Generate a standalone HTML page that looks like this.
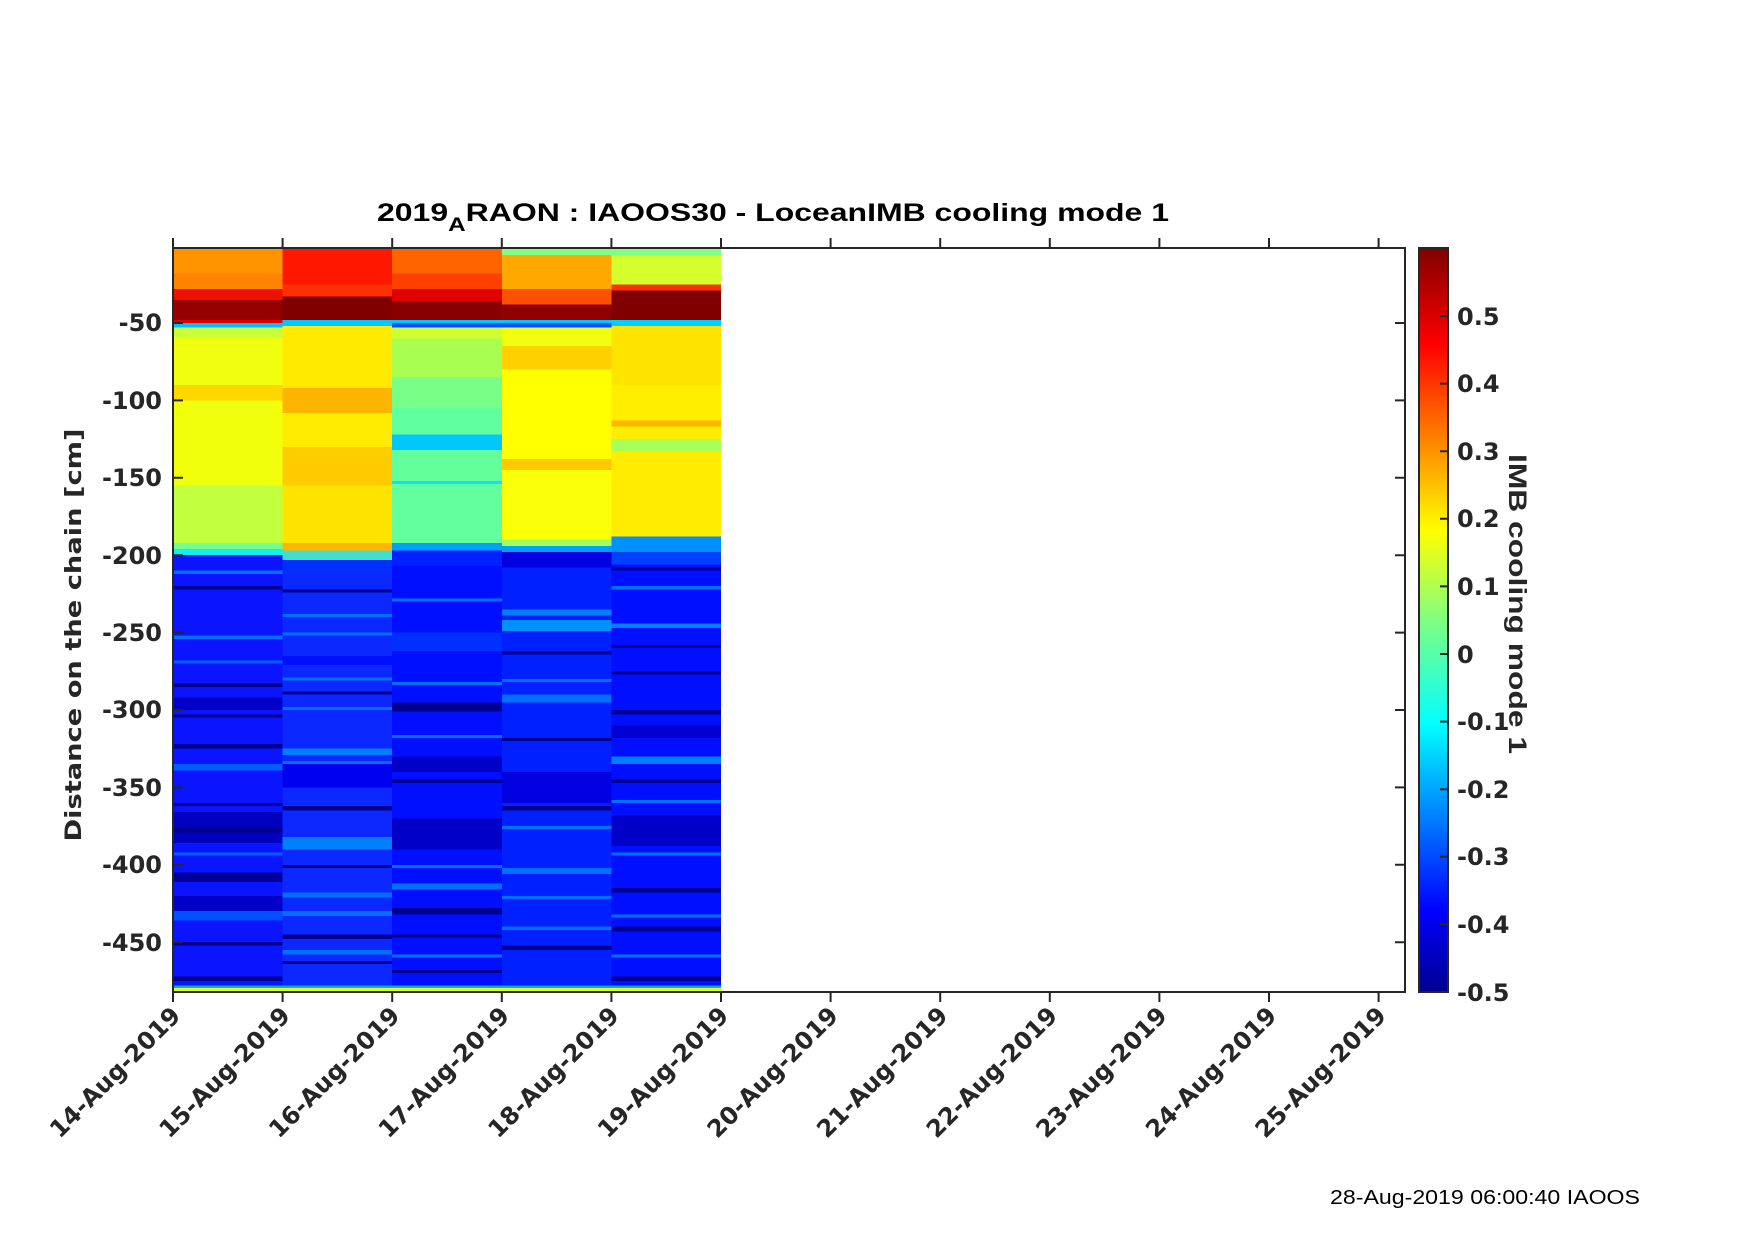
<!DOCTYPE html>
<html><head><meta charset="utf-8"><style>
html,body{margin:0;padding:0;background:#fff;}
svg{display:block;}
text{font-family:"DejaVu Sans","Liberation Sans",sans-serif;font-weight:bold;fill:#262626;}
</style></head><body>
<svg width="1754" height="1240" viewBox="0 0 1754 1240" xmlns="http://www.w3.org/2000/svg">
<defs>
<linearGradient id="jet" x1="0" y1="1" x2="0" y2="0">
<stop offset="0" stop-color="#00008f"/>
<stop offset="0.11" stop-color="#0000ff"/>
<stop offset="0.36" stop-color="#00ffff"/>
<stop offset="0.5" stop-color="#80ff80"/>
<stop offset="0.62" stop-color="#ffff00"/>
<stop offset="0.87" stop-color="#ff0000"/>
<stop offset="1" stop-color="#800000"/>
</linearGradient>
<clipPath id="cp"><rect x="173" y="248" width="548" height="744"/></clipPath>
</defs>
<g clip-path="url(#cp)" shape-rendering="crispEdges">
<g transform="translate(173,245.6) scale(1,1.548)">
<g transform="translate(0,0)">
<rect x="0" y="0" width="110" height="490" fill="#0a14ff"/>
<rect x="0" y="0" width="110" height="18" fill="#ff9400"/>
<rect x="0" y="18" width="110" height="10" fill="#ff8200"/>
<rect x="0" y="28" width="110" height="7" fill="#f01000"/>
<rect x="0" y="35" width="110" height="13" fill="#960000"/>
<rect x="0" y="48" width="110" height="2" fill="#e00000"/>
<rect x="0" y="50" width="110" height="3" fill="#00c0ff"/>
<rect x="0" y="53" width="110" height="6" fill="#c8ff38"/>
<rect x="0" y="59" width="110" height="31" fill="#f0ff10"/>
<rect x="0" y="90" width="110" height="10" fill="#ffd800"/>
<rect x="0" y="100" width="110" height="55" fill="#f2ff0c"/>
<rect x="0" y="155" width="110" height="37" fill="#c2ff3e"/>
<rect x="0" y="192" width="110" height="4" fill="#70ff90"/>
<rect x="0" y="196" width="110" height="4" fill="#10f0f0"/>
<rect x="0" y="210" width="110" height="2" fill="#0070ff"/>
<rect x="0" y="220" width="110" height="2" fill="#000090"/>
<rect x="0" y="252" width="110" height="2" fill="#0070ff"/>
<rect x="0" y="268" width="110" height="2" fill="#0060ff"/>
<rect x="0" y="283" width="110" height="2" fill="#000090"/>
<rect x="0" y="292" width="110" height="8" fill="#0000c8"/>
<rect x="0" y="303" width="110" height="2" fill="#000090"/>
<rect x="0" y="322" width="110" height="3" fill="#000090"/>
<rect x="0" y="335" width="110" height="4" fill="#0060ff"/>
<rect x="0" y="360" width="110" height="2" fill="#000090"/>
<rect x="0" y="366" width="110" height="20" fill="#0000c0"/>
<rect x="0" y="376" width="110" height="3" fill="#00008a"/>
<rect x="0" y="392" width="110" height="2" fill="#0060ff"/>
<rect x="0" y="405" width="110" height="6" fill="#00009a"/>
<rect x="0" y="420" width="110" height="10" fill="#0000c8"/>
<rect x="0" y="430" width="110" height="6" fill="#0050ff"/>
<rect x="0" y="450" width="110" height="2" fill="#000090"/>
<rect x="0" y="472" width="110" height="3" fill="#000090"/>
</g>
<g transform="translate(109.6,0)">
<rect x="0" y="0" width="110" height="490" fill="#0a28ff"/>
<rect x="0" y="0" width="110" height="25" fill="#ff1800"/>
<rect x="0" y="25" width="110" height="8" fill="#ff3000"/>
<rect x="0" y="33" width="110" height="15" fill="#800000"/>
<rect x="0" y="48" width="110" height="4" fill="#00c8ff"/>
<rect x="0" y="52" width="110" height="40" fill="#ffea00"/>
<rect x="0" y="92" width="110" height="16" fill="#ffb400"/>
<rect x="0" y="108" width="110" height="22" fill="#ffec00"/>
<rect x="0" y="130" width="110" height="25" fill="#ffcc00"/>
<rect x="0" y="155" width="110" height="37" fill="#ffe400"/>
<rect x="0" y="192" width="110" height="5" fill="#ffb400"/>
<rect x="0" y="197" width="110" height="6" fill="#40e0d0"/>
<rect x="0" y="203" width="110" height="8" fill="#0030ff"/>
<rect x="0" y="222" width="110" height="2" fill="#000090"/>
<rect x="0" y="238" width="110" height="2" fill="#0070ff"/>
<rect x="0" y="250" width="110" height="2" fill="#0070ff"/>
<rect x="0" y="265" width="110" height="6" fill="#0010ff"/>
<rect x="0" y="279" width="110" height="2" fill="#0070ff"/>
<rect x="0" y="288" width="110" height="2" fill="#000090"/>
<rect x="0" y="298" width="110" height="2" fill="#0070ff"/>
<rect x="0" y="325" width="110" height="4" fill="#0080ff"/>
<rect x="0" y="333" width="110" height="2" fill="#0070ff"/>
<rect x="0" y="335" width="110" height="15" fill="#0000f0"/>
<rect x="0" y="362" width="110" height="3" fill="#000090"/>
<rect x="0" y="382" width="110" height="8" fill="#0080ff"/>
<rect x="0" y="400" width="110" height="2" fill="#000090"/>
<rect x="0" y="418" width="110" height="3" fill="#0070ff"/>
<rect x="0" y="430" width="110" height="3" fill="#0070ff"/>
<rect x="0" y="445" width="110" height="3" fill="#000090"/>
<rect x="0" y="455" width="110" height="3" fill="#0070ff"/>
<rect x="0" y="462" width="110" height="2" fill="#000090"/>
</g>
<g transform="translate(219.2,0)">
<rect x="0" y="0" width="110" height="490" fill="#0010ff"/>
<rect x="0" y="0" width="110" height="18" fill="#ff6400"/>
<rect x="0" y="18" width="110" height="10" fill="#ff4000"/>
<rect x="0" y="28" width="110" height="8" fill="#e00000"/>
<rect x="0" y="36" width="110" height="12" fill="#880000"/>
<rect x="0" y="48" width="110" height="2" fill="#00c8ff"/>
<rect x="0" y="50" width="110" height="3" fill="#0050ff"/>
<rect x="0" y="53" width="110" height="7" fill="#d0ff30"/>
<rect x="0" y="60" width="110" height="25" fill="#a8ff50"/>
<rect x="0" y="85" width="110" height="20" fill="#78ff88"/>
<rect x="0" y="105" width="110" height="17" fill="#60ffa0"/>
<rect x="0" y="122" width="110" height="10" fill="#00c8ff"/>
<rect x="0" y="132" width="110" height="60" fill="#62ff9c"/>
<rect x="0" y="152" width="110" height="2" fill="#10e0ff"/>
<rect x="0" y="192" width="110" height="5" fill="#00a0ff"/>
<rect x="0" y="197" width="110" height="10" fill="#0020ff"/>
<rect x="0" y="228" width="110" height="2" fill="#0070ff"/>
<rect x="0" y="250" width="110" height="12" fill="#0030ff"/>
<rect x="0" y="282" width="110" height="2" fill="#0070ff"/>
<rect x="0" y="295" width="110" height="6" fill="#000090"/>
<rect x="0" y="316" width="110" height="2" fill="#0070ff"/>
<rect x="0" y="330" width="110" height="10" fill="#0000c8"/>
<rect x="0" y="345" width="110" height="2" fill="#000090"/>
<rect x="0" y="370" width="110" height="20" fill="#0000c8"/>
<rect x="0" y="400" width="110" height="2" fill="#0070ff"/>
<rect x="0" y="412" width="110" height="4" fill="#0070ff"/>
<rect x="0" y="428" width="110" height="4" fill="#000090"/>
<rect x="0" y="445" width="110" height="2" fill="#000090"/>
<rect x="0" y="458" width="110" height="2" fill="#0070ff"/>
<rect x="0" y="468" width="110" height="2" fill="#000090"/>
</g>
<g transform="translate(328.8,0)">
<rect x="0" y="0" width="110" height="490" fill="#0020ff"/>
<rect x="0" y="0" width="110" height="6" fill="#80ff80"/>
<rect x="0" y="6" width="110" height="22" fill="#ffa800"/>
<rect x="0" y="28" width="110" height="10" fill="#ff5000"/>
<rect x="0" y="38" width="110" height="10" fill="#900000"/>
<rect x="0" y="48" width="110" height="2" fill="#00c8ff"/>
<rect x="0" y="50" width="110" height="3" fill="#0050ff"/>
<rect x="0" y="53" width="110" height="12" fill="#f0ff10"/>
<rect x="0" y="65" width="110" height="15" fill="#ffd000"/>
<rect x="0" y="80" width="110" height="58" fill="#ffff00"/>
<rect x="0" y="138" width="110" height="7" fill="#ffc800"/>
<rect x="0" y="145" width="110" height="45" fill="#fbff08"/>
<rect x="0" y="190" width="110" height="4" fill="#a0ff60"/>
<rect x="0" y="194" width="110" height="4" fill="#00a0ff"/>
<rect x="0" y="198" width="110" height="10" fill="#0000e0"/>
<rect x="0" y="235" width="110" height="4" fill="#0080ff"/>
<rect x="0" y="242" width="110" height="7" fill="#0090ff"/>
<rect x="0" y="262" width="110" height="2" fill="#000090"/>
<rect x="0" y="280" width="110" height="2" fill="#0070ff"/>
<rect x="0" y="290" width="110" height="5" fill="#0070ff"/>
<rect x="0" y="318" width="110" height="2" fill="#000090"/>
<rect x="0" y="340" width="110" height="20" fill="#0000e0"/>
<rect x="0" y="362" width="110" height="3" fill="#000090"/>
<rect x="0" y="375" width="110" height="2" fill="#0070ff"/>
<rect x="0" y="402" width="110" height="4" fill="#0070ff"/>
<rect x="0" y="420" width="110" height="2" fill="#0070ff"/>
<rect x="0" y="440" width="110" height="2" fill="#0070ff"/>
<rect x="0" y="452" width="110" height="3" fill="#000090"/>
</g>
<g transform="translate(438.4,0)">
<rect x="0" y="0" width="110" height="490" fill="#0010ff"/>
<rect x="0" y="0" width="110" height="6" fill="#80ff80"/>
<rect x="0" y="6" width="110" height="19" fill="#d4ff2c"/>
<rect x="0" y="25" width="110" height="4" fill="#ff3000"/>
<rect x="0" y="29" width="110" height="19" fill="#800000"/>
<rect x="0" y="48" width="110" height="4" fill="#00d0ff"/>
<rect x="0" y="52" width="110" height="38" fill="#ffe400"/>
<rect x="0" y="90" width="110" height="23" fill="#ffee00"/>
<rect x="0" y="113" width="110" height="4" fill="#ffb400"/>
<rect x="0" y="117" width="110" height="8" fill="#ffee00"/>
<rect x="0" y="125" width="110" height="8" fill="#a8ff58"/>
<rect x="0" y="133" width="110" height="55" fill="#ffec00"/>
<rect x="0" y="188" width="110" height="10" fill="#0090ff"/>
<rect x="0" y="198" width="110" height="8" fill="#0040ff"/>
<rect x="0" y="208" width="110" height="2" fill="#000090"/>
<rect x="0" y="220" width="110" height="2" fill="#0070ff"/>
<rect x="0" y="244" width="110" height="3" fill="#0080ff"/>
<rect x="0" y="258" width="110" height="2" fill="#000090"/>
<rect x="0" y="275" width="110" height="2" fill="#000090"/>
<rect x="0" y="300" width="110" height="3" fill="#000090"/>
<rect x="0" y="310" width="110" height="8" fill="#0000d0"/>
<rect x="0" y="330" width="110" height="5" fill="#0080ff"/>
<rect x="0" y="345" width="110" height="2" fill="#000090"/>
<rect x="0" y="358" width="110" height="2" fill="#0070ff"/>
<rect x="0" y="368" width="110" height="20" fill="#0000c8"/>
<rect x="0" y="392" width="110" height="2" fill="#0070ff"/>
<rect x="0" y="415" width="110" height="3" fill="#000090"/>
<rect x="0" y="432" width="110" height="2" fill="#0070ff"/>
<rect x="0" y="440" width="110" height="3" fill="#000090"/>
<rect x="0" y="458" width="110" height="2" fill="#0070ff"/>
<rect x="0" y="472" width="110" height="3" fill="#000090"/>
</g>
<rect x="0" y="478" width="548" height="1.5" fill="#00b0ff"/>
<rect x="0" y="479.5" width="548" height="3" fill="#d8ff20"/>
</g>
</g>
<rect x="173" y="248" width="1232" height="744" fill="none" stroke="#262626" stroke-width="2"/>
<g stroke="#262626" stroke-width="2">
<path d="M173,248v-10M282.6,248v-10M392.2,248v-10M501.8,248v-10M611.4,248v-10M721,248v-10M830.6,248v-10M940.2,248v-10M1049.8,248v-10M1159.4,248v-10M1269,248v-10M1378.6,248v-10M173,992v10M282.6,992v10M392.2,992v10M501.8,992v10M611.4,992v10M721,992v10M830.6,992v10M940.2,992v10M1049.8,992v10M1159.4,992v10M1269,992v10M1378.6,992v10"/>
<path d="M173,323h10M173,400.4h10M173,477.8h10M173,555.2h10M173,632.6h10M173,710h10M173,787.4h10M173,864.8h10M173,942.2h10"/>
<path d="M1405,323h-10M1405,400.4h-10M1405,477.8h-10M1405,555.2h-10M1405,632.6h-10M1405,710h-10M1405,787.4h-10M1405,864.8h-10M1405,942.2h-10"/>
</g>
<g font-size="24" text-anchor="end">
<text x="162" y="331">-50</text>
<text x="162" y="409">-100</text>
<text x="162" y="486">-150</text>
<text x="162" y="564">-200</text>
<text x="162" y="641">-250</text>
<text x="162" y="718">-300</text>
<text x="162" y="796">-350</text>
<text x="162" y="873">-400</text>
<text x="162" y="951">-450</text>
</g>
<g font-size="24" text-anchor="end">
<text transform="translate(182,1017) rotate(-45)">14-Aug-2019</text>
<text transform="translate(291.6,1017) rotate(-45)">15-Aug-2019</text>
<text transform="translate(401.2,1017) rotate(-45)">16-Aug-2019</text>
<text transform="translate(510.8,1017) rotate(-45)">17-Aug-2019</text>
<text transform="translate(620.4,1017) rotate(-45)">18-Aug-2019</text>
<text transform="translate(730,1017) rotate(-45)">19-Aug-2019</text>
<text transform="translate(839.6,1017) rotate(-45)">20-Aug-2019</text>
<text transform="translate(949.2,1017) rotate(-45)">21-Aug-2019</text>
<text transform="translate(1058.8,1017) rotate(-45)">22-Aug-2019</text>
<text transform="translate(1168.4,1017) rotate(-45)">23-Aug-2019</text>
<text transform="translate(1278,1017) rotate(-45)">24-Aug-2019</text>
<text transform="translate(1387.6,1017) rotate(-45)">25-Aug-2019</text>
</g>
<text transform="translate(81,635) rotate(-90)" font-size="22" text-anchor="middle" textLength="413" lengthAdjust="spacingAndGlyphs">Distance on the chain [cm]</text>
<text x="773" y="221" text-anchor="middle" style="font-family:'Liberation Sans',sans-serif;font-size:25px;font-weight:bold;fill:#000" textLength="792" lengthAdjust="spacingAndGlyphs">2019<tspan style="font-size:19px" dy="10">A</tspan><tspan dy="-10">RAON : IAOOS30 - LoceanIMB cooling mode 1</tspan></text>
<rect x="1419" y="248" width="29" height="744" fill="url(#jet)" stroke="#262626" stroke-width="2"/>
<g stroke="#262626" stroke-width="2">
<path d="M1448,316h-8M1448,383.6h-8M1448,451.2h-8M1448,518.8h-8M1448,586.4h-8M1448,654h-8M1448,721.6h-8M1448,789.2h-8M1448,856.8h-8M1448,924.4h-8"/>
</g>
<g font-size="24">
<text x="1457" y="325">0.5</text>
<text x="1457" y="392">0.4</text>
<text x="1457" y="460">0.3</text>
<text x="1457" y="527">0.2</text>
<text x="1457" y="595">0.1</text>
<text x="1457" y="663">0</text>
<text x="1457" y="730">-0.1</text>
<text x="1457" y="798">-0.2</text>
<text x="1457" y="865">-0.3</text>
<text x="1457" y="933">-0.4</text>
<text x="1457" y="1001">-0.5</text>
</g>
<text transform="translate(1509,604) rotate(90)" text-anchor="middle" style="font-family:'Liberation Sans',sans-serif;font-size:25px;font-weight:bold;fill:#262626" textLength="300" lengthAdjust="spacingAndGlyphs">IMB cooling mode 1</text>
<text x="1640" y="1204" text-anchor="end" style="font-family:'Liberation Sans',sans-serif;font-size:20px;font-weight:normal;fill:#000" textLength="310" lengthAdjust="spacingAndGlyphs">28-Aug-2019 06:00:40 IAOOS</text>
</svg>
</body></html>
